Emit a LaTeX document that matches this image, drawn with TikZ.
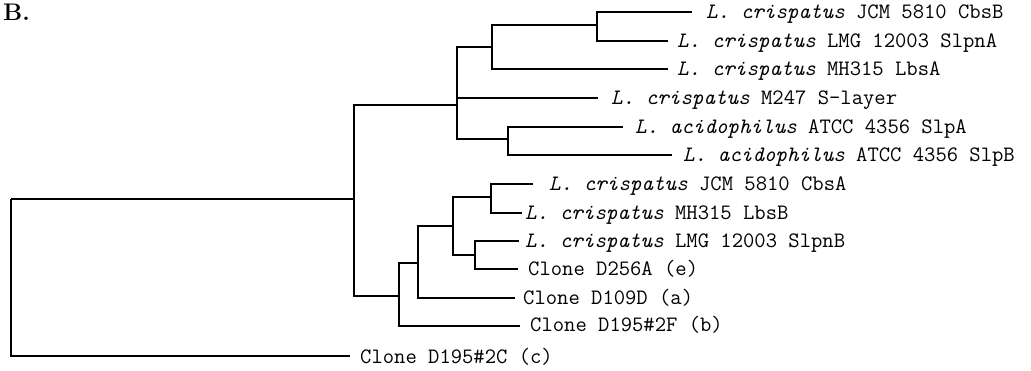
\documentclass[tikz,border=0pt]{standalone}
\begin{document}
\begin{tikzpicture}[x=1pt,y=-1pt,
  br/.style={line width=1.4pt, line join=miter},
  lbl/.style={anchor=base west, inner sep=0pt, font=\fontsize{22}{22}\selectfont\ttfamily},
  ttl/.style={anchor=base west, inner sep=0pt, font=\fontsize{24}{24}\selectfont\bfseries\rmfamily}]
\useasboundingbox (0,0) rectangle (1031,371);
\node[ttl] (title) at (3,21) {B.};
% internal nodes
\coordinate (root) at (11,199);
\coordinate (A) at (354,199);
\coordinate (B) at (457,105);
\coordinate (C) at (492,47);
\coordinate (D) at (597,25);
\coordinate (E) at (508,139);
\coordinate (F) at (399,296);
\coordinate (G) at (418,263);
\coordinate (H) at (453,226);
\coordinate (I) at (491,197);
\coordinate (J) at (475,255);
% leaf ends
\coordinate (cbsb-e) at (692,12);
\coordinate (slpna-e) at (668,41);
\coordinate (lbsa-e) at (668,69);
\coordinate (m247-e) at (598,98);
\coordinate (slpa-e) at (623,127);
\coordinate (slpb-e) at (672,155);
\coordinate (cbsa-e) at (533,184);
\coordinate (lbsb-e) at (522,213);
\coordinate (slpnb-e) at (519,241);
\coordinate (d256a-e) at (518,269);
\coordinate (d109d-e) at (515,298);
\coordinate (d2f-e) at (520,326);
\coordinate (d2c-e) at (350,356);
% labels
\node[lbl] (cbsb) at (706,19) {\textit{L. crispatus} JCM 5810 CbsB};
\node[lbl] (slpna) at (677,48) {\textit{L. crispatus} LMG 12003 SlpnA};
\node[lbl] (lbsa) at (677,76) {\textit{L. crispatus} MH315 LbsA};
\node[lbl] (m247) at (611,105) {\textit{L. crispatus} M247 S-layer};
\node[lbl] (slpa) at (635,134) {\textit{L. acidophilus} ATCC 4356 SlpA};
\node[lbl] (slpb) at (683,162) {\textit{L. acidophilus} ATCC 4356 SlpB};
\node[lbl] (cbsa) at (549,191) {\textit{L. crispatus} JCM 5810 CbsA};
\node[lbl] (lbsb) at (525,220) {\textit{L. crispatus} MH315 LbsB};
\node[lbl] (slpnb) at (525,248) {\textit{L. crispatus} LMG 12003 SlpnB};
\node[lbl] (d256a) at (528,276) {Clone D256A (e)};
\node[lbl] (d109d) at (523,305) {Clone D109D (a)};
\node[lbl] (d2f) at (530,332) {Clone D195\#2F (b)};
\node[lbl] (d2c) at (360,363) {Clone D195\#2C (c)};
% branches
\draw[br] (root) |- (A);
\draw[br] (root) |- (d2c-e);
\draw[br] (A) |- (B);
\draw[br] (A) |- (F);
\draw[br] (B) |- (C);
\draw[br] (B) |- (m247-e);
\draw[br] (B) |- (E);
\draw[br] (C) |- (D);
\draw[br] (C) |- (lbsa-e);
\draw[br] (D) |- (cbsb-e);
\draw[br] (D) |- (slpna-e);
\draw[br] (E) |- (slpa-e);
\draw[br] (E) |- (slpb-e);
\draw[br] (F) |- (G);
\draw[br] (F) |- (d2f-e);
\draw[br] (G) |- (H);
\draw[br] (G) |- (d109d-e);
\draw[br] (H) |- (I);
\draw[br] (H) |- (J);
\draw[br] (I) |- (cbsa-e);
\draw[br] (I) |- (lbsb-e);
\draw[br] (J) |- (slpnb-e);
\draw[br] (J) |- (d256a-e);
\end{tikzpicture}
\end{document}
